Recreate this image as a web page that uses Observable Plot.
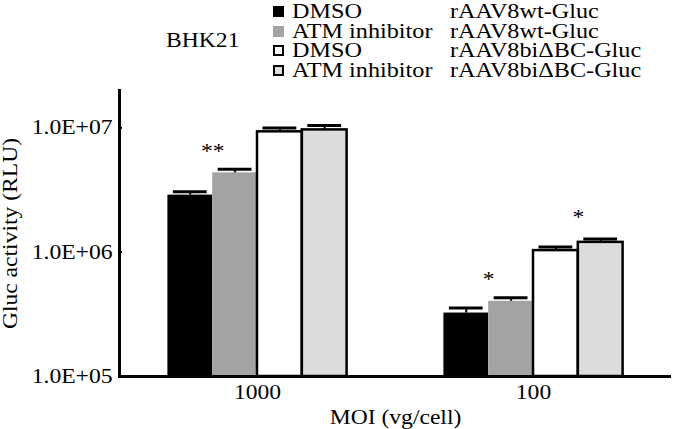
<!DOCTYPE html>
<html>
<head>
<meta charset="utf-8">
<script src="https://cdn.jsdelivr.net/npm/d3@7"></script>
<script src="https://cdn.jsdelivr.net/npm/@observablehq/plot@0.6"></script>
<style>
  html, body { margin: 0; padding: 0; background: #fff; }
  #wrap { width: 675px; font-family: "Liberation Serif", "Times New Roman", serif; color: #000; }
  #head { position: relative; height: 80px; width: 675px; }
  #title { position: absolute; left: 166px; top: 28px; font-size: 20px; line-height: 24px; }
  #legend { position: absolute; left: 273px; top: 2px; font-size: 20.5px; }
  .row { display: flex; align-items: center; height: 19.5px; white-space: nowrap; }
  .sw { width: 11px; height: 11px; box-sizing: border-box; margin-right: 8px; flex: none; }
  .l1 { width: 158px; flex: none; }
  .wide { display: inline-block; transform: scaleX(1.18); transform-origin: 0 50%; }
</style>
</head>
<body>
<div id="wrap">
  <div id="head">
    <div id="title"></div>
    <div id="legend"></div>
  </div>
  <div id="chart"></div>
</div>
<script>
// ---- data ----
const chartTitle = "BHK21";
const moiLevels = ["1000", "100"];
const seriesKeys = ["DMSO wt", "ATM wt", "DMSO bi", "ATM bi"];
const treatmentLabels = ["DMSO", "ATM inhibitor", "DMSO", "ATM inhibitor"];
const vectorLabels = ["rAAV8wt-Gluc", "rAAV8wt-Gluc", "rAAV8biΔBC-Gluc", "rAAV8biΔBC-Gluc"];
const means1000 = [2.88e6, 4.35e6, 9.3e6, 9.64e6];
const errs1000  = [0.18e6, 0.29e6, 0.70e6, 0.80e6];
const means100  = [3.24e5, 4.03e5, 1.03e6, 1.20e6];
const errs100   = [0.31e5, 0.28e5, 0.07e6, 0.08e6];
const yTicks = [1e5, 1e6, 1e7];
const yTickLabels = ["1.0E+05", "1.0E+06", "1.0E+07"];
const sigMoi = ["1000", "100", "100"];
const sigAfter = ["DMSO wt", "DMSO wt", "DMSO bi"];
const sigLabels = ["**", "*", "*"];
const sigY = [6.4e6, 6.05e5, 1.91e6];
const yLabel = "Gluc activity (RLU)";
const xLabel = "MOI (vg/cell)";

// ---- styles ----
const fills = ["#000000", "#a3a3a3", "#ffffff", "#dcdcdc"];
const outlined = ["DMSO bi", "ATM bi"];
const yDomain = [1e5, 2e7];
const textStretch = 1.18;

// ---- tables ----
const rows = [];
seriesKeys.forEach((s, i) => {
  rows.push({moi: "1000", series: s, mean: means1000[i], err: errs1000[i]});
  rows.push({moi: "100", series: s, mean: means100[i], err: errs100[i]});
});
const sig = sigLabels.map((t, i) => ({moi: sigMoi[i], series: sigAfter[i], label: t, y: sigY[i]}));

// ---- title & legend ----
const wide = (txt) => { const s = document.createElement("span"); s.className = "wide"; s.textContent = txt; return s; };
document.getElementById("title").append(wide(chartTitle));
const leg = document.getElementById("legend");
seriesKeys.forEach((s, i) => {
  const r = document.createElement("div");
  r.className = "row";
  const sw = document.createElement("span");
  sw.className = "sw";
  sw.style.background = fills[i];
  if (outlined.includes(s)) sw.style.border = "2px solid #000";
  const a = document.createElement("span"); a.className = "l1"; a.append(wide(treatmentLabels[i]));
  const b = document.createElement("span"); b.append(wide(vectorLabels[i]));
  r.append(sw, a, b);
  leg.append(r);
});

// ---- plot ----
const W = 675, H = 349, mL = 119, mR = 4, mT = 10, mB = 53;
const padOuter = 1.08;
const facetW = (W - mL - mR) / moiLevels.length;
const bw = facetW / (seriesKeys.length + 2 * padOuter);

const chart = Plot.plot({
  width: W, height: H,
  marginLeft: mL, marginRight: mR, marginTop: mT, marginBottom: mB,
  style: {fontFamily: "'Liberation Serif', 'Times New Roman', serif", fontSize: "20px", color: "#000", background: "#fff"},
  fx: {domain: moiLevels, padding: 0, round: false, axis: null},
  x: {domain: seriesKeys, paddingInner: 0, paddingOuter: padOuter, round: false, axis: null},
  y: {type: "log", domain: yDomain, axis: null},
  color: {domain: seriesKeys, range: fills},
  marks: [
    Plot.barY(rows, {fx: "moi", x: "series", y1: yDomain[0], y2: "mean", fill: "series", inset: 0}),
    Plot.barY(rows, {filter: d => outlined.includes(d.series), fx: "moi", x: "series", y1: yDomain[0], y2: "mean",
      fill: "none", stroke: "#000", strokeWidth: 2.5, inset: 0}),
    Plot.ruleX(rows, {fx: "moi", x: "series", y1: "mean", y2: d => d.mean + d.err, stroke: "#000", strokeWidth: 2}),
    Plot.tickY(rows, {fx: "moi", x: "series", y: d => d.mean + d.err, stroke: "#000", strokeWidth: 3, insetLeft: 5.5, insetRight: 5.5}),
    Plot.text(sig, {fx: "moi", x: "series", y: "y", text: "label", dx: bw / 2, fontSize: 20, lineAnchor: "middle"}),
    Plot.ruleY([yDomain[0]], {stroke: "#000", strokeWidth: 3}),
    Plot.frame({anchor: "left", facet: "super", stroke: "#000", strokeWidth: 3}),
    Plot.axisY({ticks: yTicks, tickSize: 0, tickPadding: 7, tickFormat: d => yTickLabels[yTicks.indexOf(d)],
      label: yLabel, labelAnchor: "center", labelOffset: 117, labelArrow: "none", fontSize: 20}),
    Plot.axisY({ticks: yTicks, tickSize: 3, dx: 3, text: null, label: null, strokeWidth: 2}),
    Plot.axisFx({anchor: "bottom", tickSize: 0, tickPadding: 8, label: xLabel, labelAnchor: "center",
      labelOffset: 47, labelArrow: "none", fontSize: 20})
  ]
});

// widen glyphs along each text's own direction, keeping its anchor point fixed
chart.querySelectorAll("text").forEach(t => {
  const xa = t.getAttribute("x");
  const x = xa != null && /^-?[\d.]+$/.test(xa.trim()) ? +xa : 0;
  const tr = t.getAttribute("transform") || "";
  t.setAttribute("transform", `${tr} translate(${x},0) scale(${textStretch},1) translate(${-x},0)`.trim());
});
document.getElementById("chart").append(chart);
</script>
</body>
</html>
